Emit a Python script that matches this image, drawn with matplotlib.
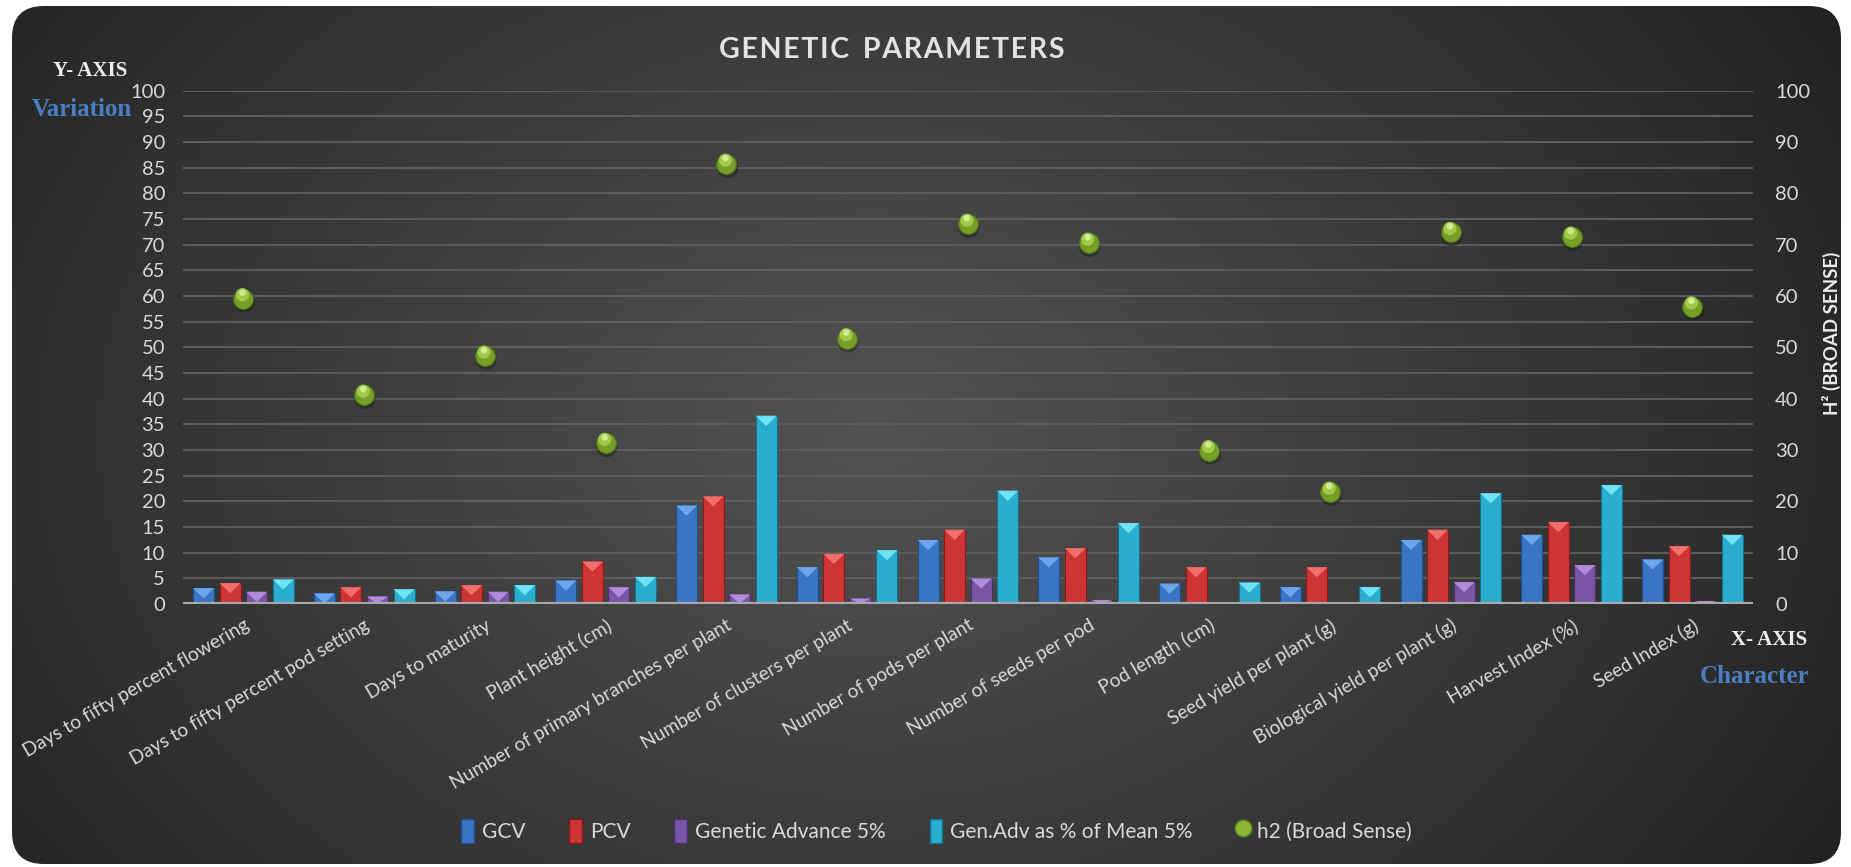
import numpy as np
import matplotlib
matplotlib.use("Agg")
import matplotlib.pyplot as plt
from matplotlib.patches import FancyBboxPatch, Polygon, Patch
from matplotlib.lines import Line2D
from matplotlib.transforms import offset_copy

plt.rcParams['font.family'] = ['Lato', 'DejaVu Sans']

categories = ["Days to fifty percent flowering", "Days to fifty percent pod setting",
              "Days to maturity", "Plant height (cm)", "Number of primary branches per plant",
              "Number of clusters per plant", "Number of pods per plant",
              "Number of seeds per pod", "Pod length (cm)", "Seed yield per plant (g)",
              "Biological yield per plant (g)", "Harvest Index (%)", "Seed Index (g)"]
gcv = [3.1, 2.1, 2.5, 4.6, 19.2, 7.2, 12.5, 9.1, 4.0, 3.3, 12.5, 13.5, 8.7]
pcv = [4.1, 3.3, 3.7, 8.3, 21.0, 9.8, 14.5, 10.9, 7.2, 7.2, 14.5, 16.0, 11.3]
gen_adv = [2.4, 1.5, 2.4, 3.3, 1.9, 1.1, 5.0, 0.8, 0.2, 0.2, 4.3, 7.6, 0.6]
gen_adv_mean = [4.8, 2.9, 3.7, 5.3, 36.7, 10.5, 22.1, 15.8, 4.2, 3.3, 21.6, 23.2, 13.5]
h2 = [59.5, 40.7, 48.3, 31.3, 85.7, 51.7, 74.0, 70.3, 29.9, 21.8, 72.4, 71.5, 57.9]

series = [("GCV", gcv, "#3a74c4", "#72acf2", "#1f4f8f"),
          ("PCV", pcv, "#cf3434", "#f47575", "#8a1a1a"),
          ("Genetic Advance 5%", gen_adv, "#7a55a6", "#b893e0", "#4a2f6e"),
          ("Gen.Adv as % of Mean 5%", gen_adv_mean, "#2aaed0", "#7aeafc", "#15728c")]

txt = "#d9d9d9"

fig = plt.figure(figsize=(18.51, 8.67), dpi=100, facecolor="white")

# dark rounded card with radial gradient
bg = fig.add_axes([0, 0, 1, 1], zorder=-5)
bg.set_xlim(0, 1851)
bg.set_ylim(867, 0)
bg.axis("off")
xx, yy = np.meshgrid(np.linspace(0, 1, 400), np.linspace(0, 1, 200))
r = np.sqrt(((xx - 0.47) / 0.6) ** 2 + ((yy - 0.5) / 0.95) ** 2)
shade = np.clip(1 - r, 0, 1) ** 0.9
c0 = np.array([0x22, 0x22, 0x22]) / 255
c1 = np.array([0x52, 0x52, 0x52]) / 255
img = c0 + (c1 - c0) * shade[..., None]
card = FancyBboxPatch((12, 6), 1829, 858, boxstyle="round,pad=0,rounding_size=32",
                      transform=bg.transData, facecolor="none", edgecolor="none")
bg.add_patch(card)
im = bg.imshow(img, extent=(12, 1841, 864, 6), aspect="auto", interpolation="bilinear")
im.set_clip_path(card)

ax = fig.add_axes([0.0989, 0.3033, 0.848, 0.592])
ax.set_facecolor("none")
x = np.arange(len(categories))
bw = 0.174
step = 0.22
ax.set_xlim(-0.5, len(categories) - 0.5)
ax.set_ylim(0, 100)

tri_depth = 2.0
for i, (name, vals, col, light, dark) in enumerate(series):
    pos = x + (i - 1.5) * step
    bars = ax.bar(pos, vals, width=bw, color=col, edgecolor=dark, linewidth=0.8, zorder=3)
    for b in bars:
        x0 = b.get_x()
        x1 = x0 + b.get_width()
        top = b.get_height()
        d = min(top, tri_depth)
        ax.add_patch(Polygon([(x0, top), (x1, top), ((x0 + x1) / 2, top - d)],
                             closed=True, facecolor=light, edgecolor="none",
                             alpha=0.9, zorder=4))

ax.set_yticks(np.arange(0, 101, 5))
ax.grid(axis="y", color="#5c5c5c", linewidth=1.5, zorder=0)
ax.axhline(0, color="#a8a8a8", linewidth=3, zorder=5)
for s in ax.spines.values():
    s.set_visible(False)
ax.tick_params(axis="y", length=0, pad=13, labelsize=14.5, labelcolor=txt)
ax.tick_params(axis="x", length=0, pad=9)
ax.set_xticks(x)
ax.set_xticklabels(categories, rotation=30, ha="right", va="top",
                   rotation_mode="anchor", fontsize=13.8, color=txt)

ax2 = ax.twinx()
ax2.set_ylim(0, 100)
ax2.set_yticks(np.arange(0, 101, 10))
for s in ax2.spines.values():
    s.set_visible(False)
ax2.tick_params(axis="y", length=0, pad=16, labelsize=14.5, labelcolor=txt)
shadow_tr = offset_copy(ax2.transData, fig=fig, x=1, y=-3, units="dots")
hi_tr = offset_copy(ax2.transData, fig=fig, x=-1, y=4, units="dots")
ax2.scatter(x, h2, s=240, color="#1a1a1a", alpha=0.45, zorder=6, transform=shadow_tr,
            edgecolor="none")
ax2.scatter(x, h2, s=200, color="#769f27", edgecolor="#57791a", linewidth=0.8, zorder=7)
ax2.scatter(x, h2, s=90, color="#a6cf4c", edgecolor="none", zorder=8, alpha=0.9,
            transform=hi_tr)
ax2.scatter(x, h2, s=22, color="#dff5a6", edgecolor="none", zorder=9, alpha=0.8,
            transform=offset_copy(ax2.transData, fig=fig, x=-1, y=6, units="dots"))

fig.text(0.482, 0.942, "G\u200aE\u200aN\u200aE\u200aT\u200aI\u200aC  "
         "P\u200aA\u200aR\u200aA\u200aM\u200aE\u200aT\u200aE\u200aR\u200aS",
         ha="center", va="center", fontsize=20.5, fontweight="bold", color="#e2e2e2")
fig.text(0.0485, 0.918, "Y- AXIS", ha="center", va="center", fontsize=15,
         fontweight="bold", color="#eeeeee", family="Liberation Serif")
fig.text(0.0440, 0.874, "Variation", ha="center", va="center", fontsize=18,
         fontweight="bold", color="#4a7fc1", family="Liberation Serif")
fig.text(0.956, 0.262, "X- AXIS", ha="center", va="center", fontsize=15,
         fontweight="bold", color="#eeeeee", family="Liberation Serif")
fig.text(0.948, 0.220, "Character", ha="center", va="center", fontsize=18,
         fontweight="bold", color="#4a7fc1", family="Liberation Serif")
fig.text(0.9895, 0.615, "H\u00b2 (BROAD SENSE)", ha="center", va="center", rotation=90,
         fontsize=13.5, fontweight="bold", color="#eeeeee")

handles = [Patch(facecolor=c, edgecolor=d, label=n) for n, _, c, _, d in series]
handles.append(Line2D([], [], marker="o", linestyle="none", markersize=12,
                      markerfacecolor="#8cb836", markeredgecolor="#5f8420",
                      label="h2 (Broad Sense)"))
leg = fig.legend(handles=handles, loc="center", bbox_to_anchor=(0.506, 0.0415), ncol=5,
                 frameon=False, fontsize=15, handlelength=0.6, handleheight=1.4,
                 handletextpad=0.4, columnspacing=2.1)
for t in leg.get_texts():
    t.set_color(txt)

fig.savefig("out.png", dpi=100, facecolor="white")
